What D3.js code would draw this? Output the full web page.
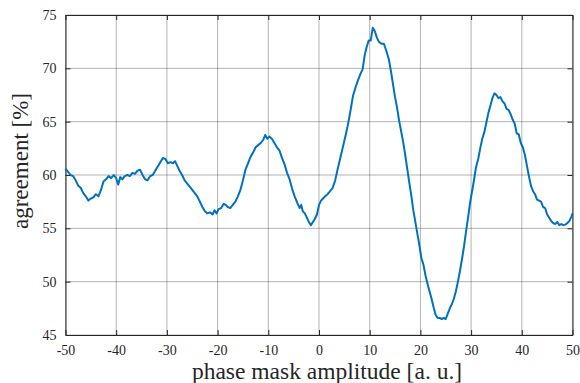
<!DOCTYPE html>
<html>
<head>
<meta charset="utf-8">
<script src="https://cdn.jsdelivr.net/npm/d3@7"></script>
<style>
  body { margin: 0; background: #fff; }
  svg text { font-family: "Liberation Serif", "Times New Roman", serif; fill: #262626; }
</style>
</head>
<body>
<div id="chart"></div>
<script>
// values
const xTicks = [-50, -40, -30, -20, -10, 0, 10, 20, 30, 40, 50];
const yTicks = [45, 50, 55, 60, 65, 70, 75];

const amp = [-50,-49.5,-49,-48.5,-48,-47.5,-47,-46.5,-46,-45.5,-45,-44.5,-44,-43.5,-43,-42.5,-42,-41.5,-41,-40.5,
  -40,-39.6,-39.2,-38.8,-38.3,-37.8,-37.3,-36.8,-36.3,-35.8,-35.3,-34.8,-34.3,-33.8,-33.3,-32.8,-32.3,-31.8,-31.3,-30.8,
  -30.3,-29.8,-29.3,-28.8,-28.4,-28,-27.5,-27,-26.5,-26,-25.5,-25,-24.5,-24,-23.5,-23,-22.5,-22,-21.5,-21,
  -20.6,-20.2,-19.8,-19.3,-18.8,-18.4,-18,-17.5,-17,-16.5,-16,-15.5,-15,-14.5,-14,-13.5,-13,-12.5,-12,-11.5,
  -11,-10.6,-10.2,-9.8,-9.3,-8.8,-8.3,-7.8,-7.3,-6.8,-6.3,-5.8,-5.3,-4.8,-4.3,-3.8,-3.5,-3.2,-2.8,-2.4,
  -2,-1.6,-1.2,-0.8,-0.4,0,0.4,0.8,1.2,1.7,2.2,2.7,3.2,3.7,4.2,4.7,5.2,5.7,6.2,6.7,
  7.2,7.7,8.2,8.6,9,9.4,9.8,10.2,10.6,11,11.4,11.8,12.3,12.8,13.3,13.8,14.2,14.6,15,15.4,
  15.8,16.2,16.6,17,17.4,17.8,18.2,18.6,19,19.4,19.8,20.2,20.6,21,21.4,21.8,22.2,22.6,23,23.4,
  23.8,24.2,24.6,25,25.4,25.8,26.2,26.6,27,27.4,27.8,28.2,28.6,29,29.4,29.8,30.2,30.6,31,31.4,
  31.8,32.2,32.6,33,33.4,33.8,34.2,34.6,35,35.4,35.8,36.2,36.6,37,37.4,37.8,38.2,38.6,39,39.4,
  39.8,40.2,40.6,41,41.4,41.8,42.2,42.6,43,43.4,43.8,44.2,44.6,45,45.4,45.8,46.2,46.6,47,47.4,
  47.8,48.2,48.6,49,49.4,49.8,50];

const agreement = [60.6,60.3,60.0,59.9,59.5,59.0,58.8,58.3,58.0,57.6,57.8,57.9,58.2,58.0,58.6,59.4,59.6,59.9,59.7,60.0,
  59.7,59.1,59.8,59.6,59.9,60.0,59.9,60.2,60.1,60.4,60.5,60.0,59.6,59.5,59.9,60.0,60.4,60.8,61.2,61.6,
  61.5,61.1,61.2,61.1,61.3,60.9,60.4,60.0,59.5,59.2,58.9,58.6,58.3,58.0,57.5,57.0,56.6,56.4,56.5,56.3,
  56.7,56.4,56.8,56.9,57.3,57.2,57.0,56.9,57.2,57.5,58.0,58.6,59.5,60.5,61.1,61.7,62.1,62.6,62.8,63.0,
  63.3,63.75,63.4,63.6,63.4,63.0,62.6,62.3,61.6,61.0,60.2,59.6,58.7,58.0,57.4,56.9,57.2,56.6,56.4,56.0,
  55.6,55.3,55.6,55.9,56.3,57.2,57.6,57.8,58.0,58.2,58.5,58.8,59.5,60.6,61.6,62.6,63.6,64.7,66.0,67.4,
  68.2,68.9,69.5,69.9,71.2,72.0,72.6,72.6,73.8,73.5,72.9,72.5,72.3,72.3,71.6,70.8,69.7,68.5,67.3,66.3,
  65.1,64.1,63.1,61.9,60.6,59.3,58.1,56.7,55.6,54.5,53.4,52.2,51.6,50.6,49.8,49.1,48.4,47.6,46.9,46.6,
  46.6,46.5,46.6,46.5,47.0,47.5,47.9,48.4,49.1,50.0,51.0,52.1,53.3,54.7,56.0,57.4,58.5,59.6,60.8,61.5,
  62.5,63.4,64.0,64.9,65.8,66.5,67.2,67.65,67.5,67.2,67.3,66.9,66.7,66.2,66.1,65.7,65.2,64.8,63.9,63.8,
  63.0,62.6,61.9,60.9,59.9,59.0,58.5,58.2,57.7,57.6,57.5,57.0,56.9,56.3,56.0,55.7,55.5,55.4,55.6,55.3,
  55.4,55.3,55.35,55.5,55.7,56.1,56.4];

const W = 580, H = 383;
const margin = {top: 15, right: 7.5, bottom: 48, left: 65.5};
const iw = W - margin.left - margin.right,
      ih = H - margin.top - margin.bottom;
const serif = "Liberation Serif, Times New Roman, serif";

const svg = d3.select("#chart").append("svg")
  .attr("width", W)
  .attr("height", H);

const g = svg.append("g")
  .attr("transform", `translate(${margin.left},${margin.top})`);

const x = d3.scaleLinear().domain([-50, 50]).range([0, iw]);
const y = d3.scaleLinear().domain([45, 75]).range([ih, 0]);

// grid
g.append("g").selectAll("line").data(xTicks).join("line")
  .attr("x1", d => x(d)).attr("x2", d => x(d))
  .attr("y1", 0).attr("y2", ih)
  .attr("stroke", "#262626").attr("stroke-opacity", 0.35).attr("stroke-width", 1);
g.append("g").selectAll("line").data(yTicks).join("line")
  .attr("x1", 0).attr("x2", iw)
  .attr("y1", d => y(d)).attr("y2", d => y(d))
  .attr("stroke", "#262626").attr("stroke-opacity", 0.35).attr("stroke-width", 1);

// axes (ticks inward like matlab)
const styleAxis = sel => {
  sel.attr("font-family", serif).attr("font-size", 14);
  sel.select(".domain").attr("stroke", "#262626").attr("stroke-width", 1);
  sel.selectAll(".tick line").attr("stroke", "#262626");
  sel.selectAll(".tick text")
    .attr("font-family", serif)
    .style("font-family", serif)
    .style("font-size", "14px")
    .attr("fill", "#333");
};

const fmt = d => String(d); // plain hyphen minus like the original

g.append("g")
  .attr("transform", `translate(0,${ih})`)
  .call(d3.axisBottom(x).tickValues(xTicks).tickFormat(fmt).tickSizeInner(-5).tickSizeOuter(0).tickPadding(10))
  .call(styleAxis);

g.append("g")
  .call(d3.axisLeft(y).tickValues(yTicks).tickFormat(fmt).tickSizeInner(-5).tickSizeOuter(0).tickPadding(9))
  .call(styleAxis);

g.append("g")
  .call(d3.axisTop(x).tickValues(xTicks).tickSizeInner(-5).tickSizeOuter(0).tickFormat(""))
  .call(styleAxis);

g.append("g")
  .attr("transform", `translate(${iw},0)`)
  .call(d3.axisRight(y).tickValues(yTicks).tickSizeInner(-5).tickSizeOuter(0).tickFormat(""))
  .call(styleAxis);

// data line
const line = d3.line()
  .x((d, i) => x(amp[i]))
  .y(d => y(d));

g.append("path")
  .datum(agreement)
  .attr("fill", "none")
  .attr("stroke", "#0072BD")
  .attr("stroke-width", 2)
  .attr("stroke-linejoin", "round")
  .attr("d", line);

// axis labels
svg.append("text")
  .attr("x", 327)
  .attr("y", 379)
  .attr("text-anchor", "middle")
  .style("font-size", "23.5px")
  .text("phase mask amplitude [a. u.]");

svg.append("text")
  .attr("transform", `translate(28,161) rotate(-90)`)
  .attr("text-anchor", "middle")
  .style("font-size", "23px")
  .text("agreement [%]");
</script>
</body>
</html>
